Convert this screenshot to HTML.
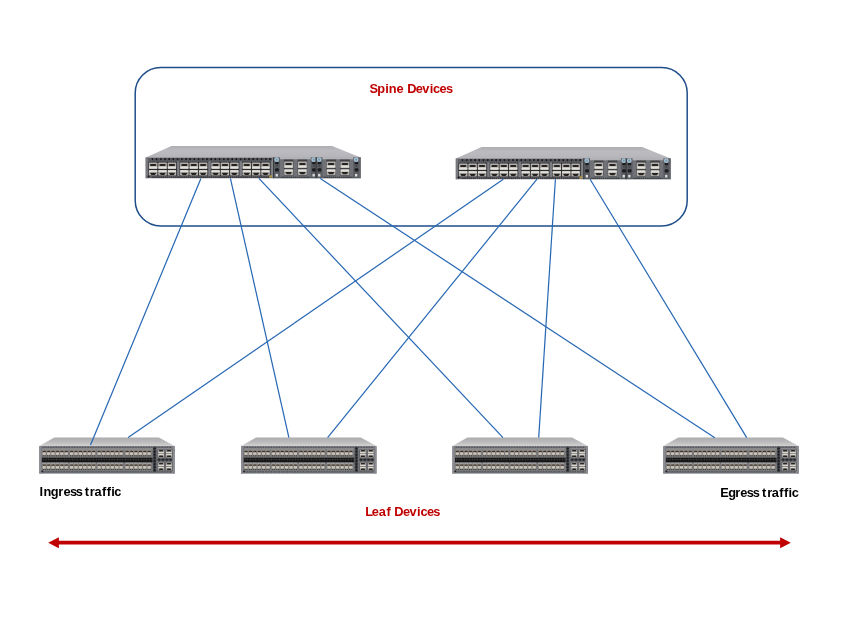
<!DOCTYPE html>
<html lang="en">
<head>
<meta charset="utf-8">
<title>Spine and Leaf Devices</title>
<style>
html,body{margin:0;padding:0;background:#fff;}
body{width:864px;height:634px;overflow:hidden;font-family:"Liberation Sans",sans-serif;}
svg{display:block;}
</style>
</head>
<body>
<svg width="864" height="634" viewBox="0 0 864 634" role="img" aria-label="Spine and leaf network topology">
<defs>
<linearGradient id="gTopS" x1="0" y1="0" x2="0" y2="1"><stop offset="0" stop-color="#adadb2"/><stop offset="0.4" stop-color="#bbbbc0"/><stop offset="1" stop-color="#b4b4b9"/></linearGradient>
<linearGradient id="gTopL" x1="0" y1="0" x2="0" y2="1"><stop offset="0" stop-color="#ababad"/><stop offset="0.5" stop-color="#bababc"/><stop offset="0.9" stop-color="#cdcdce"/><stop offset="1" stop-color="#d4d4d5"/></linearGradient>
<pattern id="pDotS" x="5.75" y="12.1" width="4.2" height="2" patternUnits="userSpaceOnUse"><circle cx="0.95" cy="1" r="0.95" fill="#0c0c0e"/><circle cx="3" cy="1.25" r="0.5" fill="#3d3e43"/></pattern>
<pattern id="pDashS" width="2.1" height="0.7" patternUnits="userSpaceOnUse"><rect width="1.3" height="0.7" fill="#34353a"/></pattern>
<pattern id="pDotS2" width="2.1" height="1.7" patternUnits="userSpaceOnUse"><circle cx="0.8" cy="0.85" r="0.7" fill="#1c1d20"/></pattern>
<pattern id="pDotL" width="2.65" height="4" patternUnits="userSpaceOnUse"><rect x="0.3" width="1.5" height="4" rx="0.4" fill="#54565b"/></pattern>
<pattern id="pDotB" width="2.65" height="2.3" patternUnits="userSpaceOnUse"><circle cx="1.3" cy="1.15" r="0.8" fill="#47484c"/></pattern>
<pattern id="pDia" x="113.65" y="9.6" width="3.3" height="3.1" patternUnits="userSpaceOnUse"><circle cx="1.65" cy="1.55" r="1.35" fill="#1b1c1f"/></pattern>
<pattern id="pBlob" x="118" y="20.9" width="3.75" height="3" patternUnits="userSpaceOnUse"><ellipse cx="1.9" cy="1.5" rx="1.7" ry="1.3" fill="#1b1c1f"/></pattern>
<filter id="soft" x="-2%" y="-10%" width="104%" height="120%"><feGaussianBlur stdDeviation="0.45"/></filter>

<g id="spine"><path d="M25.8 0 H186.4 L215 11.5 H0 Z" fill="url(#gTopS)"/><rect x="0" y="11.5" width="215" height="20.7" fill="#5c5e64"/><rect x="0" y="11.5" width="2.4" height="20.7" fill="#76787e"/><rect x="5.75" y="12.1" width="120.6" height="2" fill="url(#pDotS)"/><rect x="3" y="14.8" width="123.5" height="0.8" fill="url(#pDashS)"/><rect x="5.6" y="30.4" width="118" height="1.7" fill="url(#pDotS2)"/><rect x="2.8" y="16.1" width="28.5" height="13.7" fill="#2a2a2d"/><rect x="3.2" y="16.5" width="8.5" height="6.4" fill="#b3b0ab" rx="0.7"/><rect x="4.3" y="17.9" width="6.3" height="2.1" fill="#262322" rx="1"/><rect x="3.4" y="20.6" width="8.1" height="1.9" fill="#e2e0db"/><rect x="3.2" y="24" width="8.5" height="5.6" fill="#b3b0ab" rx="0.7"/><rect x="3.4" y="24.3" width="8.1" height="1.9" fill="#e2e0db"/><path d="M4.2 26.8 h6.5 l-1.5 2.1 h-3.5 z" fill="#262322"/><rect x="12.6" y="16.5" width="8.5" height="6.4" fill="#b3b0ab" rx="0.7"/><rect x="13.7" y="17.9" width="6.3" height="2.1" fill="#262322" rx="1"/><rect x="12.8" y="20.6" width="8.1" height="1.9" fill="#e2e0db"/><rect x="12.6" y="24" width="8.5" height="5.6" fill="#b3b0ab" rx="0.7"/><rect x="12.8" y="24.3" width="8.1" height="1.9" fill="#e2e0db"/><path d="M13.6 26.8 h6.5 l-1.5 2.1 h-3.5 z" fill="#262322"/><rect x="22" y="16.5" width="8.5" height="6.4" fill="#b3b0ab" rx="0.7"/><rect x="23.1" y="17.9" width="6.3" height="2.1" fill="#262322" rx="1"/><rect x="22.2" y="20.6" width="8.1" height="1.9" fill="#e2e0db"/><rect x="22" y="24" width="8.5" height="5.6" fill="#b3b0ab" rx="0.7"/><rect x="22.2" y="24.3" width="8.1" height="1.9" fill="#e2e0db"/><path d="M23 26.8 h6.5 l-1.5 2.1 h-3.5 z" fill="#262322"/><rect x="31.5" y="15.2" width="2.3" height="14.8" fill="#7c7e83"/><rect x="34" y="16.1" width="28.5" height="13.7" fill="#2a2a2d"/><rect x="34.4" y="16.5" width="8.5" height="6.4" fill="#b3b0ab" rx="0.7"/><rect x="35.5" y="17.9" width="6.3" height="2.1" fill="#262322" rx="1"/><rect x="34.6" y="20.6" width="8.1" height="1.9" fill="#e2e0db"/><rect x="34.4" y="24" width="8.5" height="5.6" fill="#b3b0ab" rx="0.7"/><rect x="34.6" y="24.3" width="8.1" height="1.9" fill="#e2e0db"/><path d="M35.4 26.8 h6.5 l-1.5 2.1 h-3.5 z" fill="#262322"/><rect x="43.8" y="16.5" width="8.5" height="6.4" fill="#b3b0ab" rx="0.7"/><rect x="44.9" y="17.9" width="6.3" height="2.1" fill="#262322" rx="1"/><rect x="44" y="20.6" width="8.1" height="1.9" fill="#e2e0db"/><rect x="43.8" y="24" width="8.5" height="5.6" fill="#b3b0ab" rx="0.7"/><rect x="44" y="24.3" width="8.1" height="1.9" fill="#e2e0db"/><path d="M44.8 26.8 h6.5 l-1.5 2.1 h-3.5 z" fill="#262322"/><rect x="53.2" y="16.5" width="8.5" height="6.4" fill="#b3b0ab" rx="0.7"/><rect x="54.3" y="17.9" width="6.3" height="2.1" fill="#262322" rx="1"/><rect x="53.4" y="20.6" width="8.1" height="1.9" fill="#e2e0db"/><rect x="53.2" y="24" width="8.5" height="5.6" fill="#b3b0ab" rx="0.7"/><rect x="53.4" y="24.3" width="8.1" height="1.9" fill="#e2e0db"/><path d="M54.2 26.8 h6.5 l-1.5 2.1 h-3.5 z" fill="#262322"/><rect x="62.7" y="15.2" width="2.3" height="14.8" fill="#7c7e83"/><rect x="65.2" y="16.1" width="28.5" height="13.7" fill="#2a2a2d"/><rect x="65.6" y="16.5" width="8.5" height="6.4" fill="#b3b0ab" rx="0.7"/><rect x="66.7" y="17.9" width="6.3" height="2.1" fill="#262322" rx="1"/><rect x="65.8" y="20.6" width="8.1" height="1.9" fill="#e2e0db"/><rect x="65.6" y="24" width="8.5" height="5.6" fill="#b3b0ab" rx="0.7"/><rect x="65.8" y="24.3" width="8.1" height="1.9" fill="#e2e0db"/><path d="M66.6 26.8 h6.5 l-1.5 2.1 h-3.5 z" fill="#262322"/><rect x="75" y="16.5" width="8.5" height="6.4" fill="#b3b0ab" rx="0.7"/><rect x="76.1" y="17.9" width="6.3" height="2.1" fill="#262322" rx="1"/><rect x="75.2" y="20.6" width="8.1" height="1.9" fill="#e2e0db"/><rect x="75" y="24" width="8.5" height="5.6" fill="#b3b0ab" rx="0.7"/><rect x="75.2" y="24.3" width="8.1" height="1.9" fill="#e2e0db"/><path d="M76 26.8 h6.5 l-1.5 2.1 h-3.5 z" fill="#262322"/><rect x="84.4" y="16.5" width="8.5" height="6.4" fill="#b3b0ab" rx="0.7"/><rect x="85.5" y="17.9" width="6.3" height="2.1" fill="#262322" rx="1"/><rect x="84.6" y="20.6" width="8.1" height="1.9" fill="#e2e0db"/><rect x="84.4" y="24" width="8.5" height="5.6" fill="#b3b0ab" rx="0.7"/><rect x="84.6" y="24.3" width="8.1" height="1.9" fill="#e2e0db"/><path d="M85.4 26.8 h6.5 l-1.5 2.1 h-3.5 z" fill="#262322"/><rect x="93.9" y="15.2" width="2.3" height="14.8" fill="#7c7e83"/><rect x="96.4" y="16.1" width="28.5" height="13.7" fill="#2a2a2d"/><rect x="96.8" y="16.5" width="8.5" height="6.4" fill="#b3b0ab" rx="0.7"/><rect x="97.9" y="17.9" width="6.3" height="2.1" fill="#262322" rx="1"/><rect x="97" y="20.6" width="8.1" height="1.9" fill="#e2e0db"/><rect x="96.8" y="24" width="8.5" height="5.6" fill="#b3b0ab" rx="0.7"/><rect x="97" y="24.3" width="8.1" height="1.9" fill="#e2e0db"/><path d="M97.8 26.8 h6.5 l-1.5 2.1 h-3.5 z" fill="#262322"/><rect x="106.2" y="16.5" width="8.5" height="6.4" fill="#b3b0ab" rx="0.7"/><rect x="107.3" y="17.9" width="6.3" height="2.1" fill="#262322" rx="1"/><rect x="106.4" y="20.6" width="8.1" height="1.9" fill="#e2e0db"/><rect x="106.2" y="24" width="8.5" height="5.6" fill="#b3b0ab" rx="0.7"/><rect x="106.4" y="24.3" width="8.1" height="1.9" fill="#e2e0db"/><path d="M107.2 26.8 h6.5 l-1.5 2.1 h-3.5 z" fill="#262322"/><rect x="115.6" y="16.5" width="8.5" height="6.4" fill="#b3b0ab" rx="0.7"/><rect x="116.7" y="17.9" width="6.3" height="2.1" fill="#262322" rx="1"/><rect x="115.8" y="20.6" width="8.1" height="1.9" fill="#e2e0db"/><rect x="115.6" y="24" width="8.5" height="5.6" fill="#b3b0ab" rx="0.7"/><rect x="115.8" y="24.3" width="8.1" height="1.9" fill="#e2e0db"/><path d="M116.6 26.8 h6.5 l-1.5 2.1 h-3.5 z" fill="#262322"/><rect x="125.1" y="15.2" width="2.3" height="14.8" fill="#7c7e83"/><rect x="123.6" y="29.4" width="2.6" height="2.1" fill="#b89b3c"/><circle cx="2.8" cy="30.4" r="1.0" fill="#141518"/><rect x="127.6" y="11.5" width="42.5" height="20.7" fill="#595b61"/><rect x="134.2" y="13.1" width="30.9" height="18" fill="#707278"/><rect x="134.2" y="10.9" width="30.9" height="2.4" fill="#b1b2b5"/><rect x="135.1" y="30.5" width="29" height="1.4" fill="url(#pDotS2)"/><rect x="129.4" y="15.9" width="3.6" height="2.3" fill="#1a1b1e" rx="0.9"/><rect x="130.2" y="19.3" width="1.8" height="1.2" fill="#3d3e43" rx="0.5"/><rect x="129.4" y="22.2" width="3.8" height="3.2" fill="#1a1b1e" rx="1"/><rect x="166.4" y="15.9" width="3.6" height="2.3" fill="#1a1b1e" rx="0.9"/><rect x="167.2" y="19.3" width="1.8" height="1.2" fill="#3d3e43" rx="0.5"/><rect x="166.4" y="22.2" width="3.8" height="3.2" fill="#1a1b1e" rx="1"/><circle cx="131" cy="13.7" r="2.4" fill="#a7c3d3"/><circle cx="131" cy="13.7" r="1.1" fill="#7598ae"/><circle cx="168" cy="13.7" r="2.4" fill="#a7c3d3"/><circle cx="168" cy="13.7" r="1.1" fill="#7598ae"/><rect x="129.9" y="27.9" width="2.3" height="2.6" fill="#dcdcdc"/><rect x="166.8" y="27.9" width="2.3" height="2.6" fill="#dcdcdc"/><rect x="138.2" y="13.6" width="9.4" height="15.7" fill="#3f4044"/><rect x="138.5" y="15.6" width="8.8" height="6.3" fill="#b3b0ab" rx="0.7"/><rect x="139.6" y="17" width="6.6" height="2.1" fill="#262322" rx="1"/><rect x="138.7" y="19.6" width="8.4" height="1.9" fill="#e2e0db"/><rect x="138.5" y="23.3" width="8.8" height="5.6" fill="#b3b0ab" rx="0.7"/><rect x="138.7" y="23.6" width="8.4" height="1.9" fill="#e2e0db"/><path d="M139.5 26.1 h6.8 l-1.5 2.1 h-3.8 z" fill="#262322"/><rect x="152" y="13.6" width="9.4" height="15.7" fill="#3f4044"/><rect x="152.3" y="15.6" width="8.8" height="6.3" fill="#b3b0ab" rx="0.7"/><rect x="153.4" y="17" width="6.6" height="2.1" fill="#262322" rx="1"/><rect x="152.5" y="19.6" width="8.4" height="1.9" fill="#e2e0db"/><rect x="152.3" y="23.3" width="8.8" height="5.6" fill="#b3b0ab" rx="0.7"/><rect x="152.5" y="23.6" width="8.4" height="1.9" fill="#e2e0db"/><path d="M153.3 26.1 h6.8 l-1.5 2.1 h-3.8 z" fill="#262322"/><rect x="127.4" y="11.5" width="0.9" height="20.7" fill="#2c2d31"/><rect x="170.1" y="11.5" width="44.9" height="20.7" fill="#595b61"/><rect x="176.7" y="13.1" width="30.9" height="18" fill="#707278"/><rect x="176.7" y="10.9" width="30.9" height="2.4" fill="#b1b2b5"/><rect x="177.6" y="30.5" width="29" height="1.4" fill="url(#pDotS2)"/><rect x="171.9" y="15.9" width="3.6" height="2.3" fill="#1a1b1e" rx="0.9"/><rect x="172.7" y="19.3" width="1.8" height="1.2" fill="#3d3e43" rx="0.5"/><rect x="171.9" y="22.2" width="3.8" height="3.2" fill="#1a1b1e" rx="1"/><rect x="208.9" y="15.9" width="3.6" height="2.3" fill="#1a1b1e" rx="0.9"/><rect x="209.7" y="19.3" width="1.8" height="1.2" fill="#3d3e43" rx="0.5"/><rect x="208.9" y="22.2" width="3.8" height="3.2" fill="#1a1b1e" rx="1"/><circle cx="173.5" cy="13.7" r="2.4" fill="#a7c3d3"/><circle cx="173.5" cy="13.7" r="1.1" fill="#7598ae"/><circle cx="210.5" cy="13.7" r="2.4" fill="#a7c3d3"/><circle cx="210.5" cy="13.7" r="1.1" fill="#7598ae"/><rect x="172.4" y="27.9" width="2.3" height="2.6" fill="#dcdcdc"/><rect x="209.3" y="27.9" width="2.3" height="2.6" fill="#dcdcdc"/><rect x="180.7" y="13.6" width="9.4" height="15.7" fill="#3f4044"/><rect x="181" y="15.6" width="8.8" height="6.3" fill="#b3b0ab" rx="0.7"/><rect x="182.1" y="17" width="6.6" height="2.1" fill="#262322" rx="1"/><rect x="181.2" y="19.6" width="8.4" height="1.9" fill="#e2e0db"/><rect x="181" y="23.3" width="8.8" height="5.6" fill="#b3b0ab" rx="0.7"/><rect x="181.2" y="23.6" width="8.4" height="1.9" fill="#e2e0db"/><path d="M182 26.1 h6.8 l-1.5 2.1 h-3.8 z" fill="#262322"/><rect x="194.5" y="13.6" width="9.4" height="15.7" fill="#3f4044"/><rect x="194.8" y="15.6" width="8.8" height="6.3" fill="#b3b0ab" rx="0.7"/><rect x="195.9" y="17" width="6.6" height="2.1" fill="#262322" rx="1"/><rect x="195" y="19.6" width="8.4" height="1.9" fill="#e2e0db"/><rect x="194.8" y="23.3" width="8.8" height="5.6" fill="#b3b0ab" rx="0.7"/><rect x="195" y="23.6" width="8.4" height="1.9" fill="#e2e0db"/><path d="M195.8 26.1 h6.8 l-1.5 2.1 h-3.8 z" fill="#262322"/><rect x="169.9" y="11.5" width="0.9" height="20.7" fill="#2c2d31"/><rect x="126.4" y="11.5" width="1" height="20.7" fill="#85878c"/><rect x="214" y="11.5" width="1" height="20.7" fill="#7b7d82"/></g>
<g id="leaf"><path d="M15 0 H119.6 L135.4 8.7 H0 Z" fill="url(#gTopL)"/><rect x="0" y="8.7" width="135.4" height="27.5" fill="#75777c"/><rect x="0" y="8.7" width="2" height="27.5" fill="#8a8c91"/><rect x="133.5" y="8.7" width="1.9" height="27.5" fill="#8a8c91"/><rect x="3.2" y="9.1" width="129.5" height="1.6" fill="url(#pDotL)"/><rect x="3.2" y="11.1" width="129.5" height="0.8" fill="#9b9ca0"/><rect x="3.2" y="33.6" width="129.5" height="1.6" fill="url(#pDotL)"/><rect x="2.6" y="20.3" width="110.6" height="4.7" fill="#141415"/><rect x="2.6" y="21" width="110.6" height="2.3" fill="url(#pDotB)"/><rect x="2.7" y="12.1" width="26.5" height="7.3" fill="#7f7a74"/><rect x="2.7" y="25.3" width="26.5" height="7.3" fill="#7f7a74"/><rect x="3" y="12.1" width="3.9" height="1.2" fill="#9d9a96"/><rect x="3.5" y="13.3" width="3" height="1.4" fill="#3a2f28" rx="0.6"/><rect x="3.3" y="15.1" width="3.2" height="2.3" fill="#cbc8c2"/><rect x="3.4" y="17.9" width="1" height="1.1" fill="#3d352f"/><rect x="5.4" y="17.9" width="1" height="1.1" fill="#3d352f"/><rect x="3" y="25.3" width="3.9" height="1.6" fill="#9e9ea2"/><rect x="3.5" y="27.1" width="3" height="1.3" fill="#4a3f36" rx="0.6"/><rect x="3.3" y="28.7" width="3.2" height="2.5" fill="#c8c5bf"/><rect x="3.4" y="31.6" width="1" height="1" fill="#3d352f"/><rect x="5.4" y="31.6" width="1" height="1" fill="#3d352f"/><rect x="7.4" y="12.1" width="3.9" height="1.2" fill="#9d9a96"/><rect x="7.9" y="13.3" width="3" height="1.4" fill="#3a2f28" rx="0.6"/><rect x="7.7" y="15.1" width="3.2" height="2.3" fill="#cbc8c2"/><rect x="7.8" y="17.9" width="1" height="1.1" fill="#3d352f"/><rect x="9.8" y="17.9" width="1" height="1.1" fill="#3d352f"/><rect x="7.4" y="25.3" width="3.9" height="1.6" fill="#9e9ea2"/><rect x="7.9" y="27.1" width="3" height="1.3" fill="#4a3f36" rx="0.6"/><rect x="7.7" y="28.7" width="3.2" height="2.5" fill="#c8c5bf"/><rect x="7.8" y="31.6" width="1" height="1" fill="#3d352f"/><rect x="9.8" y="31.6" width="1" height="1" fill="#3d352f"/><rect x="11.8" y="12.1" width="3.9" height="1.2" fill="#9d9a96"/><rect x="12.3" y="13.3" width="3" height="1.4" fill="#3a2f28" rx="0.6"/><rect x="12.1" y="15.1" width="3.2" height="2.3" fill="#cbc8c2"/><rect x="12.2" y="17.9" width="1" height="1.1" fill="#3d352f"/><rect x="14.2" y="17.9" width="1" height="1.1" fill="#3d352f"/><rect x="11.8" y="25.3" width="3.9" height="1.6" fill="#9e9ea2"/><rect x="12.3" y="27.1" width="3" height="1.3" fill="#4a3f36" rx="0.6"/><rect x="12.1" y="28.7" width="3.2" height="2.5" fill="#c8c5bf"/><rect x="12.2" y="31.6" width="1" height="1" fill="#3d352f"/><rect x="14.2" y="31.6" width="1" height="1" fill="#3d352f"/><rect x="16.2" y="12.1" width="3.9" height="1.2" fill="#9d9a96"/><rect x="16.7" y="13.3" width="3" height="1.4" fill="#3a2f28" rx="0.6"/><rect x="16.5" y="15.1" width="3.2" height="2.3" fill="#cbc8c2"/><rect x="16.6" y="17.9" width="1" height="1.1" fill="#3d352f"/><rect x="18.6" y="17.9" width="1" height="1.1" fill="#3d352f"/><rect x="16.2" y="25.3" width="3.9" height="1.6" fill="#9e9ea2"/><rect x="16.7" y="27.1" width="3" height="1.3" fill="#4a3f36" rx="0.6"/><rect x="16.5" y="28.7" width="3.2" height="2.5" fill="#c8c5bf"/><rect x="16.6" y="31.6" width="1" height="1" fill="#3d352f"/><rect x="18.6" y="31.6" width="1" height="1" fill="#3d352f"/><rect x="20.6" y="12.1" width="3.9" height="1.2" fill="#9d9a96"/><rect x="21.1" y="13.3" width="3" height="1.4" fill="#3a2f28" rx="0.6"/><rect x="20.9" y="15.1" width="3.2" height="2.3" fill="#cbc8c2"/><rect x="21" y="17.9" width="1" height="1.1" fill="#3d352f"/><rect x="23" y="17.9" width="1" height="1.1" fill="#3d352f"/><rect x="20.6" y="25.3" width="3.9" height="1.6" fill="#9e9ea2"/><rect x="21.1" y="27.1" width="3" height="1.3" fill="#4a3f36" rx="0.6"/><rect x="20.9" y="28.7" width="3.2" height="2.5" fill="#c8c5bf"/><rect x="21" y="31.6" width="1" height="1" fill="#3d352f"/><rect x="23" y="31.6" width="1" height="1" fill="#3d352f"/><rect x="25" y="12.1" width="3.9" height="1.2" fill="#9d9a96"/><rect x="25.5" y="13.3" width="3" height="1.4" fill="#3a2f28" rx="0.6"/><rect x="25.3" y="15.1" width="3.2" height="2.3" fill="#cbc8c2"/><rect x="25.4" y="17.9" width="1" height="1.1" fill="#3d352f"/><rect x="27.4" y="17.9" width="1" height="1.1" fill="#3d352f"/><rect x="25" y="25.3" width="3.9" height="1.6" fill="#9e9ea2"/><rect x="25.5" y="27.1" width="3" height="1.3" fill="#4a3f36" rx="0.6"/><rect x="25.3" y="28.7" width="3.2" height="2.5" fill="#c8c5bf"/><rect x="25.4" y="31.6" width="1" height="1" fill="#3d352f"/><rect x="27.4" y="31.6" width="1" height="1" fill="#3d352f"/><rect x="30.1" y="12.1" width="26.5" height="7.3" fill="#7f7a74"/><rect x="30.1" y="25.3" width="26.5" height="7.3" fill="#7f7a74"/><rect x="30.4" y="12.1" width="3.9" height="1.2" fill="#9d9a96"/><rect x="30.9" y="13.3" width="3" height="1.4" fill="#3a2f28" rx="0.6"/><rect x="30.7" y="15.1" width="3.2" height="2.3" fill="#cbc8c2"/><rect x="30.8" y="17.9" width="1" height="1.1" fill="#3d352f"/><rect x="32.8" y="17.9" width="1" height="1.1" fill="#3d352f"/><rect x="30.4" y="25.3" width="3.9" height="1.6" fill="#9e9ea2"/><rect x="30.9" y="27.1" width="3" height="1.3" fill="#4a3f36" rx="0.6"/><rect x="30.7" y="28.7" width="3.2" height="2.5" fill="#c8c5bf"/><rect x="30.8" y="31.6" width="1" height="1" fill="#3d352f"/><rect x="32.8" y="31.6" width="1" height="1" fill="#3d352f"/><rect x="34.8" y="12.1" width="3.9" height="1.2" fill="#9d9a96"/><rect x="35.3" y="13.3" width="3" height="1.4" fill="#3a2f28" rx="0.6"/><rect x="35.1" y="15.1" width="3.2" height="2.3" fill="#cbc8c2"/><rect x="35.2" y="17.9" width="1" height="1.1" fill="#3d352f"/><rect x="37.2" y="17.9" width="1" height="1.1" fill="#3d352f"/><rect x="34.8" y="25.3" width="3.9" height="1.6" fill="#9e9ea2"/><rect x="35.3" y="27.1" width="3" height="1.3" fill="#4a3f36" rx="0.6"/><rect x="35.1" y="28.7" width="3.2" height="2.5" fill="#c8c5bf"/><rect x="35.2" y="31.6" width="1" height="1" fill="#3d352f"/><rect x="37.2" y="31.6" width="1" height="1" fill="#3d352f"/><rect x="39.2" y="12.1" width="3.9" height="1.2" fill="#9d9a96"/><rect x="39.7" y="13.3" width="3" height="1.4" fill="#3a2f28" rx="0.6"/><rect x="39.5" y="15.1" width="3.2" height="2.3" fill="#cbc8c2"/><rect x="39.6" y="17.9" width="1" height="1.1" fill="#3d352f"/><rect x="41.6" y="17.9" width="1" height="1.1" fill="#3d352f"/><rect x="39.2" y="25.3" width="3.9" height="1.6" fill="#9e9ea2"/><rect x="39.7" y="27.1" width="3" height="1.3" fill="#4a3f36" rx="0.6"/><rect x="39.5" y="28.7" width="3.2" height="2.5" fill="#c8c5bf"/><rect x="39.6" y="31.6" width="1" height="1" fill="#3d352f"/><rect x="41.6" y="31.6" width="1" height="1" fill="#3d352f"/><rect x="43.6" y="12.1" width="3.9" height="1.2" fill="#9d9a96"/><rect x="44.1" y="13.3" width="3" height="1.4" fill="#3a2f28" rx="0.6"/><rect x="43.9" y="15.1" width="3.2" height="2.3" fill="#cbc8c2"/><rect x="44" y="17.9" width="1" height="1.1" fill="#3d352f"/><rect x="46" y="17.9" width="1" height="1.1" fill="#3d352f"/><rect x="43.6" y="25.3" width="3.9" height="1.6" fill="#9e9ea2"/><rect x="44.1" y="27.1" width="3" height="1.3" fill="#4a3f36" rx="0.6"/><rect x="43.9" y="28.7" width="3.2" height="2.5" fill="#c8c5bf"/><rect x="44" y="31.6" width="1" height="1" fill="#3d352f"/><rect x="46" y="31.6" width="1" height="1" fill="#3d352f"/><rect x="48" y="12.1" width="3.9" height="1.2" fill="#9d9a96"/><rect x="48.5" y="13.3" width="3" height="1.4" fill="#3a2f28" rx="0.6"/><rect x="48.3" y="15.1" width="3.2" height="2.3" fill="#cbc8c2"/><rect x="48.4" y="17.9" width="1" height="1.1" fill="#3d352f"/><rect x="50.4" y="17.9" width="1" height="1.1" fill="#3d352f"/><rect x="48" y="25.3" width="3.9" height="1.6" fill="#9e9ea2"/><rect x="48.5" y="27.1" width="3" height="1.3" fill="#4a3f36" rx="0.6"/><rect x="48.3" y="28.7" width="3.2" height="2.5" fill="#c8c5bf"/><rect x="48.4" y="31.6" width="1" height="1" fill="#3d352f"/><rect x="50.4" y="31.6" width="1" height="1" fill="#3d352f"/><rect x="52.4" y="12.1" width="3.9" height="1.2" fill="#9d9a96"/><rect x="52.9" y="13.3" width="3" height="1.4" fill="#3a2f28" rx="0.6"/><rect x="52.7" y="15.1" width="3.2" height="2.3" fill="#cbc8c2"/><rect x="52.8" y="17.9" width="1" height="1.1" fill="#3d352f"/><rect x="54.8" y="17.9" width="1" height="1.1" fill="#3d352f"/><rect x="52.4" y="25.3" width="3.9" height="1.6" fill="#9e9ea2"/><rect x="52.9" y="27.1" width="3" height="1.3" fill="#4a3f36" rx="0.6"/><rect x="52.7" y="28.7" width="3.2" height="2.5" fill="#c8c5bf"/><rect x="52.8" y="31.6" width="1" height="1" fill="#3d352f"/><rect x="54.8" y="31.6" width="1" height="1" fill="#3d352f"/><rect x="57.6" y="12.1" width="26.5" height="7.3" fill="#7f7a74"/><rect x="57.6" y="25.3" width="26.5" height="7.3" fill="#7f7a74"/><rect x="57.9" y="12.1" width="3.9" height="1.2" fill="#9d9a96"/><rect x="58.4" y="13.3" width="3" height="1.4" fill="#3a2f28" rx="0.6"/><rect x="58.2" y="15.1" width="3.2" height="2.3" fill="#cbc8c2"/><rect x="58.3" y="17.9" width="1" height="1.1" fill="#3d352f"/><rect x="60.3" y="17.9" width="1" height="1.1" fill="#3d352f"/><rect x="57.9" y="25.3" width="3.9" height="1.6" fill="#9e9ea2"/><rect x="58.4" y="27.1" width="3" height="1.3" fill="#4a3f36" rx="0.6"/><rect x="58.2" y="28.7" width="3.2" height="2.5" fill="#c8c5bf"/><rect x="58.3" y="31.6" width="1" height="1" fill="#3d352f"/><rect x="60.3" y="31.6" width="1" height="1" fill="#3d352f"/><rect x="62.3" y="12.1" width="3.9" height="1.2" fill="#9d9a96"/><rect x="62.8" y="13.3" width="3" height="1.4" fill="#3a2f28" rx="0.6"/><rect x="62.6" y="15.1" width="3.2" height="2.3" fill="#cbc8c2"/><rect x="62.7" y="17.9" width="1" height="1.1" fill="#3d352f"/><rect x="64.7" y="17.9" width="1" height="1.1" fill="#3d352f"/><rect x="62.3" y="25.3" width="3.9" height="1.6" fill="#9e9ea2"/><rect x="62.8" y="27.1" width="3" height="1.3" fill="#4a3f36" rx="0.6"/><rect x="62.6" y="28.7" width="3.2" height="2.5" fill="#c8c5bf"/><rect x="62.7" y="31.6" width="1" height="1" fill="#3d352f"/><rect x="64.7" y="31.6" width="1" height="1" fill="#3d352f"/><rect x="66.7" y="12.1" width="3.9" height="1.2" fill="#9d9a96"/><rect x="67.2" y="13.3" width="3" height="1.4" fill="#3a2f28" rx="0.6"/><rect x="67" y="15.1" width="3.2" height="2.3" fill="#cbc8c2"/><rect x="67.1" y="17.9" width="1" height="1.1" fill="#3d352f"/><rect x="69.1" y="17.9" width="1" height="1.1" fill="#3d352f"/><rect x="66.7" y="25.3" width="3.9" height="1.6" fill="#9e9ea2"/><rect x="67.2" y="27.1" width="3" height="1.3" fill="#4a3f36" rx="0.6"/><rect x="67" y="28.7" width="3.2" height="2.5" fill="#c8c5bf"/><rect x="67.1" y="31.6" width="1" height="1" fill="#3d352f"/><rect x="69.1" y="31.6" width="1" height="1" fill="#3d352f"/><rect x="71.1" y="12.1" width="3.9" height="1.2" fill="#9d9a96"/><rect x="71.6" y="13.3" width="3" height="1.4" fill="#3a2f28" rx="0.6"/><rect x="71.4" y="15.1" width="3.2" height="2.3" fill="#cbc8c2"/><rect x="71.5" y="17.9" width="1" height="1.1" fill="#3d352f"/><rect x="73.5" y="17.9" width="1" height="1.1" fill="#3d352f"/><rect x="71.1" y="25.3" width="3.9" height="1.6" fill="#9e9ea2"/><rect x="71.6" y="27.1" width="3" height="1.3" fill="#4a3f36" rx="0.6"/><rect x="71.4" y="28.7" width="3.2" height="2.5" fill="#c8c5bf"/><rect x="71.5" y="31.6" width="1" height="1" fill="#3d352f"/><rect x="73.5" y="31.6" width="1" height="1" fill="#3d352f"/><rect x="75.5" y="12.1" width="3.9" height="1.2" fill="#9d9a96"/><rect x="76" y="13.3" width="3" height="1.4" fill="#3a2f28" rx="0.6"/><rect x="75.8" y="15.1" width="3.2" height="2.3" fill="#cbc8c2"/><rect x="75.9" y="17.9" width="1" height="1.1" fill="#3d352f"/><rect x="77.9" y="17.9" width="1" height="1.1" fill="#3d352f"/><rect x="75.5" y="25.3" width="3.9" height="1.6" fill="#9e9ea2"/><rect x="76" y="27.1" width="3" height="1.3" fill="#4a3f36" rx="0.6"/><rect x="75.8" y="28.7" width="3.2" height="2.5" fill="#c8c5bf"/><rect x="75.9" y="31.6" width="1" height="1" fill="#3d352f"/><rect x="77.9" y="31.6" width="1" height="1" fill="#3d352f"/><rect x="79.9" y="12.1" width="3.9" height="1.2" fill="#9d9a96"/><rect x="80.4" y="13.3" width="3" height="1.4" fill="#3a2f28" rx="0.6"/><rect x="80.2" y="15.1" width="3.2" height="2.3" fill="#cbc8c2"/><rect x="80.3" y="17.9" width="1" height="1.1" fill="#3d352f"/><rect x="82.3" y="17.9" width="1" height="1.1" fill="#3d352f"/><rect x="79.9" y="25.3" width="3.9" height="1.6" fill="#9e9ea2"/><rect x="80.4" y="27.1" width="3" height="1.3" fill="#4a3f36" rx="0.6"/><rect x="80.2" y="28.7" width="3.2" height="2.5" fill="#c8c5bf"/><rect x="80.3" y="31.6" width="1" height="1" fill="#3d352f"/><rect x="82.3" y="31.6" width="1" height="1" fill="#3d352f"/><rect x="85.6" y="12.1" width="26.5" height="7.3" fill="#7f7a74"/><rect x="85.6" y="25.3" width="26.5" height="7.3" fill="#7f7a74"/><rect x="85.9" y="12.1" width="3.9" height="1.2" fill="#9d9a96"/><rect x="86.4" y="13.3" width="3" height="1.4" fill="#3a2f28" rx="0.6"/><rect x="86.2" y="15.1" width="3.2" height="2.3" fill="#cbc8c2"/><rect x="86.3" y="17.9" width="1" height="1.1" fill="#3d352f"/><rect x="88.3" y="17.9" width="1" height="1.1" fill="#3d352f"/><rect x="85.9" y="25.3" width="3.9" height="1.6" fill="#9e9ea2"/><rect x="86.4" y="27.1" width="3" height="1.3" fill="#4a3f36" rx="0.6"/><rect x="86.2" y="28.7" width="3.2" height="2.5" fill="#c8c5bf"/><rect x="86.3" y="31.6" width="1" height="1" fill="#3d352f"/><rect x="88.3" y="31.6" width="1" height="1" fill="#3d352f"/><rect x="90.3" y="12.1" width="3.9" height="1.2" fill="#9d9a96"/><rect x="90.8" y="13.3" width="3" height="1.4" fill="#3a2f28" rx="0.6"/><rect x="90.6" y="15.1" width="3.2" height="2.3" fill="#cbc8c2"/><rect x="90.7" y="17.9" width="1" height="1.1" fill="#3d352f"/><rect x="92.7" y="17.9" width="1" height="1.1" fill="#3d352f"/><rect x="90.3" y="25.3" width="3.9" height="1.6" fill="#9e9ea2"/><rect x="90.8" y="27.1" width="3" height="1.3" fill="#4a3f36" rx="0.6"/><rect x="90.6" y="28.7" width="3.2" height="2.5" fill="#c8c5bf"/><rect x="90.7" y="31.6" width="1" height="1" fill="#3d352f"/><rect x="92.7" y="31.6" width="1" height="1" fill="#3d352f"/><rect x="94.7" y="12.1" width="3.9" height="1.2" fill="#9d9a96"/><rect x="95.2" y="13.3" width="3" height="1.4" fill="#3a2f28" rx="0.6"/><rect x="95" y="15.1" width="3.2" height="2.3" fill="#cbc8c2"/><rect x="95.1" y="17.9" width="1" height="1.1" fill="#3d352f"/><rect x="97.1" y="17.9" width="1" height="1.1" fill="#3d352f"/><rect x="94.7" y="25.3" width="3.9" height="1.6" fill="#9e9ea2"/><rect x="95.2" y="27.1" width="3" height="1.3" fill="#4a3f36" rx="0.6"/><rect x="95" y="28.7" width="3.2" height="2.5" fill="#c8c5bf"/><rect x="95.1" y="31.6" width="1" height="1" fill="#3d352f"/><rect x="97.1" y="31.6" width="1" height="1" fill="#3d352f"/><rect x="99.1" y="12.1" width="3.9" height="1.2" fill="#9d9a96"/><rect x="99.6" y="13.3" width="3" height="1.4" fill="#3a2f28" rx="0.6"/><rect x="99.4" y="15.1" width="3.2" height="2.3" fill="#cbc8c2"/><rect x="99.5" y="17.9" width="1" height="1.1" fill="#3d352f"/><rect x="101.5" y="17.9" width="1" height="1.1" fill="#3d352f"/><rect x="99.1" y="25.3" width="3.9" height="1.6" fill="#9e9ea2"/><rect x="99.6" y="27.1" width="3" height="1.3" fill="#4a3f36" rx="0.6"/><rect x="99.4" y="28.7" width="3.2" height="2.5" fill="#c8c5bf"/><rect x="99.5" y="31.6" width="1" height="1" fill="#3d352f"/><rect x="101.5" y="31.6" width="1" height="1" fill="#3d352f"/><rect x="103.5" y="12.1" width="3.9" height="1.2" fill="#9d9a96"/><rect x="104" y="13.3" width="3" height="1.4" fill="#3a2f28" rx="0.6"/><rect x="103.8" y="15.1" width="3.2" height="2.3" fill="#cbc8c2"/><rect x="103.9" y="17.9" width="1" height="1.1" fill="#3d352f"/><rect x="105.9" y="17.9" width="1" height="1.1" fill="#3d352f"/><rect x="103.5" y="25.3" width="3.9" height="1.6" fill="#9e9ea2"/><rect x="104" y="27.1" width="3" height="1.3" fill="#4a3f36" rx="0.6"/><rect x="103.8" y="28.7" width="3.2" height="2.5" fill="#c8c5bf"/><rect x="103.9" y="31.6" width="1" height="1" fill="#3d352f"/><rect x="105.9" y="31.6" width="1" height="1" fill="#3d352f"/><rect x="107.9" y="12.1" width="3.9" height="1.2" fill="#9d9a96"/><rect x="108.4" y="13.3" width="3" height="1.4" fill="#3a2f28" rx="0.6"/><rect x="108.2" y="15.1" width="3.2" height="2.3" fill="#cbc8c2"/><rect x="108.3" y="17.9" width="1" height="1.1" fill="#3d352f"/><rect x="110.3" y="17.9" width="1" height="1.1" fill="#3d352f"/><rect x="107.9" y="25.3" width="3.9" height="1.6" fill="#9e9ea2"/><rect x="108.4" y="27.1" width="3" height="1.3" fill="#4a3f36" rx="0.6"/><rect x="108.2" y="28.7" width="3.2" height="2.5" fill="#c8c5bf"/><rect x="108.3" y="31.6" width="1" height="1" fill="#3d352f"/><rect x="110.3" y="31.6" width="1" height="1" fill="#3d352f"/><rect x="113.6" y="9.3" width="3.4" height="25.4" fill="#55575c"/><rect x="113.65" y="9.6" width="3.3" height="24.8" fill="url(#pDia)"/><rect x="118" y="20.9" width="15" height="3" fill="url(#pBlob)"/><rect x="118.5" y="12" width="6.6" height="8.3" fill="#4b4c51"/><rect x="118.9" y="12.3" width="5.8" height="3.7" fill="#aeaba5" rx="0.5"/><rect x="119.7" y="12.7" width="4.2" height="1.5" fill="#262322" rx="0.7"/><rect x="119.1" y="14.5" width="5.4" height="1.3" fill="#dcd9d3"/><rect x="118.9" y="16.4" width="5.8" height="3.6" fill="#aeaba5" rx="0.5"/><rect x="119.1" y="16.6" width="5.4" height="1.3" fill="#dcd9d3"/><rect x="119.7" y="18.2" width="4.2" height="1.5" fill="#262322" rx="0.7"/><rect x="118.5" y="24.9" width="6.6" height="8.3" fill="#4b4c51"/><rect x="118.9" y="25.2" width="5.8" height="3.7" fill="#aeaba5" rx="0.5"/><rect x="119.7" y="25.6" width="4.2" height="1.5" fill="#262322" rx="0.7"/><rect x="119.1" y="27.4" width="5.4" height="1.3" fill="#dcd9d3"/><rect x="118.9" y="29.3" width="5.8" height="3.6" fill="#aeaba5" rx="0.5"/><rect x="119.1" y="29.5" width="5.4" height="1.3" fill="#dcd9d3"/><rect x="119.7" y="31.1" width="4.2" height="1.5" fill="#262322" rx="0.7"/><rect x="126.4" y="12" width="6.6" height="8.3" fill="#4b4c51"/><rect x="126.8" y="12.3" width="5.8" height="3.7" fill="#aeaba5" rx="0.5"/><rect x="127.6" y="12.7" width="4.2" height="1.5" fill="#262322" rx="0.7"/><rect x="127" y="14.5" width="5.4" height="1.3" fill="#dcd9d3"/><rect x="126.8" y="16.4" width="5.8" height="3.6" fill="#aeaba5" rx="0.5"/><rect x="127" y="16.6" width="5.4" height="1.3" fill="#dcd9d3"/><rect x="127.6" y="18.2" width="4.2" height="1.5" fill="#262322" rx="0.7"/><rect x="126.4" y="24.9" width="6.6" height="8.3" fill="#4b4c51"/><rect x="126.8" y="25.2" width="5.8" height="3.7" fill="#aeaba5" rx="0.5"/><rect x="127.6" y="25.6" width="4.2" height="1.5" fill="#262322" rx="0.7"/><rect x="127" y="27.4" width="5.4" height="1.3" fill="#dcd9d3"/><rect x="126.8" y="29.3" width="5.8" height="3.6" fill="#aeaba5" rx="0.5"/><rect x="127" y="29.5" width="5.4" height="1.3" fill="#dcd9d3"/><rect x="127.6" y="31.1" width="4.2" height="1.5" fill="#262322" rx="0.7"/><circle cx="2.9" cy="33.9" r="0.9" fill="#1c1d21"/></g>
</defs>
<rect width="864" height="634" fill="#ffffff"/>
<rect x="135.2" y="67.6" width="552" height="158.3" rx="25.5" ry="25.5" fill="none" stroke="#1f4e8a" stroke-width="1.5"/>
<g filter="url(#soft)">
<use href="#spine" x="145.7" y="146"/>
<use href="#spine" x="455.8" y="147"/>
<use href="#leaf" x="39.3" y="437.4"/>
<use href="#leaf" x="241.1" y="437.4"/>
<use href="#leaf" x="452.4" y="437.4"/>
<use href="#leaf" x="663.3" y="437.4"/>
</g>
<g stroke="#2768b4" stroke-width="1.22" stroke-linecap="butt" fill="none">
<line x1="200.9" y1="178.4" x2="90.5" y2="445"/>
<line x1="230.4" y1="178.4" x2="288.9" y2="437.6"/>
<line x1="258.9" y1="178.4" x2="503" y2="437.6"/>
<line x1="320.3" y1="178.4" x2="714.8" y2="437.8"/>
<line x1="503.3" y1="179.2" x2="128.1" y2="437.6"/>
<line x1="537" y1="179.2" x2="327.6" y2="437.6"/>
<line x1="555.4" y1="179.2" x2="538.7" y2="437.6"/>
<line x1="590.1" y1="179.2" x2="746.7" y2="437.6"/>
</g>
<line x1="57" y1="542.7" x2="782" y2="542.7" stroke="#c00000" stroke-width="3.7"/>
<path d="M48.2 542.7 L58.9 537.2 V548.2 Z" fill="#c00000"/>
<path d="M790.8 542.7 L780.1 537.2 V548.2 Z" fill="#c00000"/>
<text x="369.52 377.28 385.33 388.87 396.61 403.7 407.27 415.81 422.24 429.63 432.98 439.61 445.93" y="92.9" fill="#c00000" font-family="'Liberation Sans', sans-serif" font-weight="700" font-size="12.8">Spine Devices</text>
<text x="365.21 371.71 378.66 386.6 391.3 394.32 403.11 409.59 416.98 420.38 426.96 433.18" y="515.7" fill="#c00000" font-family="'Liberation Sans', sans-serif" font-weight="700" font-size="12.8">Leaf Devices</text>
<text x="39.52 43.52 50.81 58.23 63.56 69.98 75.83 82.3 84.87 89.78 94.56 101.95 106.65 111.33 114.33" y="496.4" fill="#000000" font-family="'Liberation Sans', sans-serif" font-weight="700" font-size="12.8">Ingress traffic</text>
<text x="720.3 728.16 735.28 740.36 746.68 752.63 759 762.12 767.13 771.66 779.15 783.9 788.58 791.68" y="496.7" fill="#000000" font-family="'Liberation Sans', sans-serif" font-weight="700" font-size="12.8">Egress traffic</text>
</svg>
</body>
</html>
